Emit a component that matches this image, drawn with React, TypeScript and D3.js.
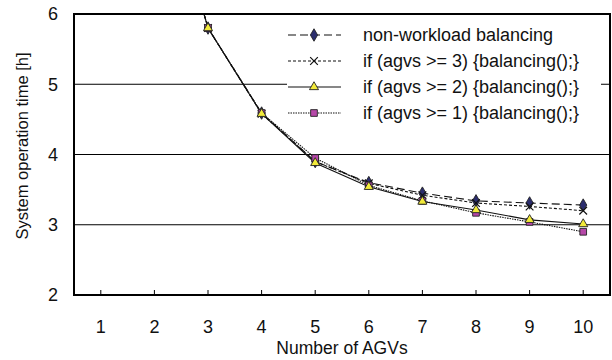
import * as d3 from 'd3';

// Number of AGVs (x) — the first point lies above the plotted range and is clipped
const agvs = [2, 3, 4, 5, 6, 7, 8, 9, 10];
const nonBalancing = [8.5, 5.8, 4.59, 3.9, 3.6, 3.45, 3.34, 3.31, 3.28];
const balancing3 = [8.5, 5.8, 4.58, 3.9, 3.59, 3.42, 3.31, 3.26, 3.2];
const balancing2 = [8.5, 5.8, 4.58, 3.88, 3.54, 3.33, 3.21, 3.07, 3.01];
const balancing1 = [8.5, 5.8, 4.59, 3.95, 3.56, 3.34, 3.17, 3.04, 2.9];

const xTicks = [1, 2, 3, 4, 5, 6, 7, 8, 9, 10];
const yTicks = [2, 3, 4, 5, 6];

const seriesNames = [
  'non-workload balancing',
  'if (agvs >= 3) {balancing();}',
  'if (agvs >= 2) {balancing();}',
  'if (agvs >= 1) {balancing();}',
];

type Series = {
  name: string;
  values: number[];
  dash: string;
  symbol: d3.SymbolType;
  size: number;
  fill: string;
};

const series: Series[] = [
  { name: seriesNames[0], values: nonBalancing, dash: '8,4', symbol: d3.symbolDiamond, size: 45, fill: '#2b2d6e' },
  { name: seriesNames[1], values: balancing3, dash: '3,2', symbol: d3.symbolX, size: 40, fill: 'none' },
  { name: seriesNames[2], values: balancing2, dash: 'none', symbol: d3.symbolTriangle, size: 36, fill: '#f2ea3a' },
  { name: seriesNames[3], values: balancing1, dash: '1.5,1', symbol: d3.symbolSquare, size: 45, fill: '#b648a8' },
];

const font = '"Liberation Sans", Arial, sans-serif';

const left = 74;
const right = 610;
const top = 14;
const bottom = 295;

export default function App() {
  const x = d3.scaleLinear().domain([0.5, 10.5]).range([left, right]);
  const y = d3.scaleLinear().domain([2, 6]).range([bottom, top]);

  const line = d3
    .line<number>()
    .x((_d, i) => x(agvs[i]))
    .y((d) => y(d));

  const markerOrder = [0, 1, 3, 2];
  const legendRows = [35, 61, 87, 113];

  const marker = (s: Series, cx: number, cy: number, key: string) => (
    <path
      key={key}
      d={d3.symbol(s.symbol, s.size)() as string}
      transform={`translate(${cx},${cy})`}
      fill={s.fill}
      stroke={s.fill === 'none' ? '#111' : '#222'}
      strokeWidth={s.fill === 'none' ? 1.2 : 0.9}
    />
  );

  return (
    <svg
      width={612}
      height={360}
      style={{ position: 'absolute', left: 0, top: 0, background: '#fff' }}
      fontFamily={font}
    >
      <defs>
        <clipPath id="plot">
          <rect x={left} y={top} width={right - left} height={bottom - top} />
        </clipPath>
      </defs>

      {/* gridlines */}
      {yTicks.slice(1, -1).map((t) => (
        <line key={t} x1={left} x2={right} y1={y(t)} y2={y(t)} stroke="#000" strokeWidth={1} />
      ))}

      {/* legend background */}
      <rect x={287} y={20} width={314} height={107} fill="#fff" />

      {/* x ticks */}
      {xTicks.map((t) => (
        <line key={t} x1={x(t)} x2={x(t)} y1={bottom} y2={bottom - 5} stroke="#000" strokeWidth={1} />
      ))}

      <g clipPath="url(#plot)">
        {series.map((s) => (
          <path
            key={s.name}
            d={line(s.values) as string}
            fill="none"
            stroke="#111"
            strokeWidth={1.1}
            strokeDasharray={s.dash}
          />
        ))}
        {markerOrder.map((k) =>
          series[k].values.map((v, i) => marker(series[k], x(agvs[i]), y(v), `${k}-${i}`)),
        )}
      </g>

      {/* plot border */}
      <rect x={left} y={top} width={right - left} height={bottom - top} fill="none" stroke="#000" strokeWidth={2} />

      {/* legend */}
      {series.map((s, i) => (
        <g key={s.name}>
          <line x1={288} x2={341} y1={legendRows[i]} y2={legendRows[i]} stroke="#111" strokeWidth={1.1} strokeDasharray={s.dash} />
          {marker(s, 314, legendRows[i], `leg-${i}`)}
          <text x={363} y={legendRows[i]} dy="0.36em" fontSize={18} fill="#111">
            {s.name}
          </text>
        </g>
      ))}

      {/* tick labels */}
      {xTicks.map((t) => (
        <text key={t} x={x(t)} y={333} textAnchor="middle" fontSize={18} fill="#111">
          {t}
        </text>
      ))}
      {yTicks.map((t) => (
        <text key={t} x={58} y={y(t)} dy="0.36em" textAnchor="end" fontSize={18} fill="#111">
          {t}
        </text>
      ))}

      {/* axis titles */}
      <text x={(left + right) / 2} y={354} textAnchor="middle" fontSize={17.5} fill="#111">
        Number of AGVs
      </text>
      <text
        transform={`translate(22,146) rotate(-90)`}
        dy="0.36em"
        textAnchor="middle"
        fontSize={16.5}
        fill="#111"
      >
        System operation time [h]
      </text>
    </svg>
  );
}
